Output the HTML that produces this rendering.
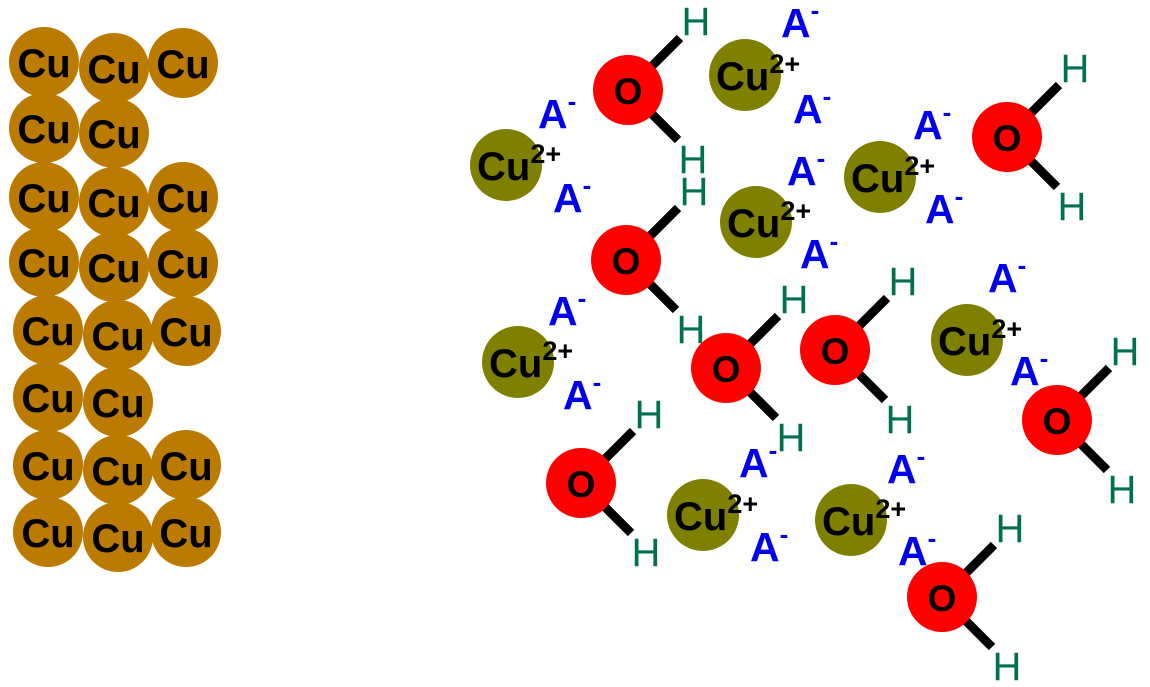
<!DOCTYPE html>
<html><head><meta charset="utf-8"><style>
html,body{margin:0;padding:0;background:#fff;}
svg{display:block;font-family:"Liberation Sans",sans-serif;}
.cu{font-weight:bold;font-size:40px;fill:#000;}
.h{font-size:40px;fill:#007050;}
.a{font-weight:bold;font-size:41px;fill:#0000ee;}
.o{font-weight:bold;font-size:37px;fill:#000;}
</style></head><body>
<svg width="1150" height="687" viewBox="0 0 1150 687" xmlns="http://www.w3.org/2000/svg">
<g id="lattice"></g>
<g id="rest"></g>
<script>
var NS="http://www.w3.org/2000/svg";
function el(p,n,a,t){var e=document.createElementNS(NS,n);for(var k in a)e.setAttribute(k,a[k]);if(t)e.textContent=t;p.appendChild(e);return e;}
var L=document.getElementById('lattice'),R=document.getElementById('rest');
var cu=[[44,62],[114,68],[183,63],[44,128],[114,133],[44,197],[114,202],[183,197],[44,262],[114,267],[183,263],[48,330],[118,335],[186,331],[48,397],[118,402],[48,465],[118,470],[186,465],[48,532],[118,537],[186,532]];
cu.forEach(function(c){el(L,'circle',{cx:c[0],cy:c[1],r:35,fill:'#bb7a00'});});
cu.forEach(function(c){el(L,'text',{x:c[0],y:c[1]+15,'text-anchor':'middle','class':'cu'},'Cu');});
var ions=[[506,165],[745,75],[756,222],[880,177],[518,362],[967,340],[703,515],[851,520]];
ions.forEach(function(c){el(R,'circle',{cx:c[0],cy:c[1],r:36,fill:'#7f7f00'});
var t=el(R,'text',{x:c[0]-29,y:c[1]+15,'class':'cu'});
el(t,'tspan',{},'Cu');el(t,'tspan',{dy:-17,'font-size':'27'},'2+');});
var ws=[[628,90],[1007,137],[626,260],[726,368],[835,350],[1057,420],[581,483],[942,597]];
ws.forEach(function(c){var x=c[0],y=c[1];
el(R,'line',{x1:x+20,y1:y-20,x2:x+52,y2:y-52,stroke:'#000','stroke-width':9});
el(R,'line',{x1:x+20,y1:y+20,x2:x+50,y2:y+50,stroke:'#000','stroke-width':9});
el(R,'circle',{cx:x,cy:y,r:35,fill:'#ff0000'});
el(R,'text',{x:x,y:y+14,'text-anchor':'middle','class':'o'},'O');
el(R,'text',{x:x+68,y:y-55,'text-anchor':'middle','class':'h'},'H');
el(R,'text',{x:x+65,y:y+83,'text-anchor':'middle','class':'h'},'H');});
var as=[[553,113],[568,197],[796,22],[808,108],[928,124],[802,170],[940,208],[815,253],[1003,277],[563,310],[578,394],[1025,370],[754,462],[765,546],[902,468],[913,550]];
as.forEach(function(c){var t=el(R,'text',{x:c[0]-15,y:c[1]+15,'class':'a'});
el(t,'tspan',{},'A');el(t,'tspan',{dy:-18,'font-size':'26'},'-');});
</script>
</svg>
</body></html>
